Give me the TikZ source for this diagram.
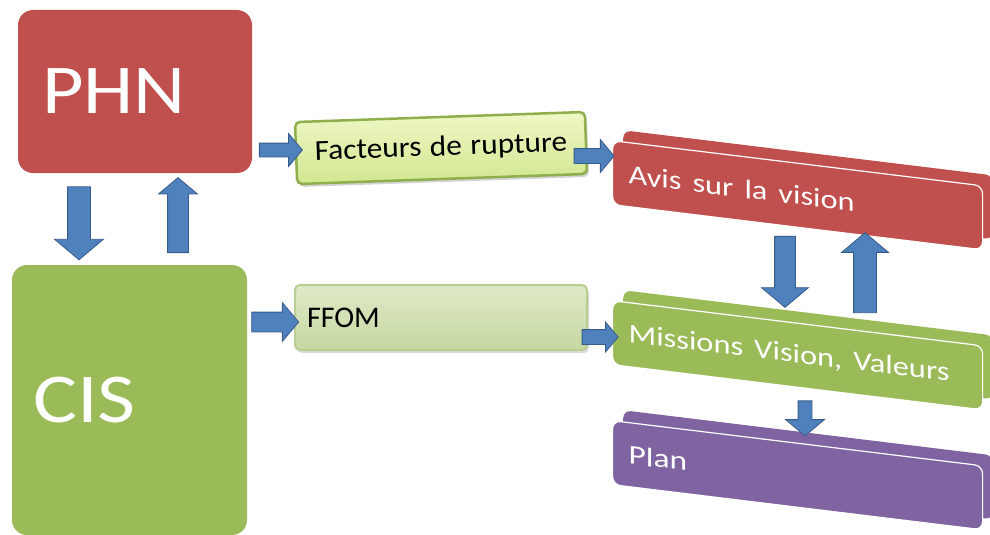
\documentclass[tikz,border=0pt]{standalone}
\usepackage{fontspec}
\usepackage{graphicx}
\setmainfont{Carlito}
\newfontfamily\midsp[WordSpace=1.2]{Carlito}
\usetikzlibrary{shapes.arrows,shadows}
\definecolor{redc}{HTML}{C0504D}
\definecolor{greenc}{HTML}{9BBB59}
\definecolor{purplec}{HTML}{8064A2}
\definecolor{bluec}{HTML}{4F81BD}
\definecolor{blueb}{HTML}{385D8A}
\definecolor{facttop}{HTML}{EEF8C6}
\definecolor{factbot}{HTML}{D2E690}
\definecolor{facted}{HTML}{8FAE4C}
\definecolor{ffomtop}{HTML}{DFE9C8}
\definecolor{ffombot}{HTML}{C6D8A0}
\definecolor{ffomed}{HTML}{B9CD92}
\newcommand{\hs}[2]{\scalebox{#1}[1]{#2}}
\newcommand{\wsp}{\hspace{0.34em}}
\tikzset{
  bigbox/.style={rounded corners=15pt, inner ysep=0pt, align=left, text=white},
  slab/.style={draw=white, line width=1.2pt, rounded corners=8pt, yslant=-0.122,
    minimum width=370pt, minimum height=64pt, anchor=north west, inner xsep=16pt,
    inner ysep=0pt, text width=338pt, align=left, text=white},
  slabback/.style={rounded corners=8pt, yslant=-0.122,
    minimum width=370pt, minimum height=64pt, anchor=north west},
  factbox/.style={draw=facted, line width=2.5pt, rounded corners=5pt,
    top color=facttop, bottom color=factbot, align=center,
    drop shadow={opacity=0.35, shadow xshift=2pt, shadow yshift=-3pt}},
  ffombox/.style={draw=ffomed, line width=2pt, rounded corners=5pt,
    top color=ffomtop, bottom color=ffombot, align=left,
    drop shadow={opacity=0.3, shadow xshift=2pt, shadow yshift=-3pt}},
  barrow/.style={single arrow, draw=blueb, fill=bluec, line width=0.8pt,
    inner xsep=0pt, single arrow head indent=0pt, single arrow tip angle=100}
}
\begin{document}
\begin{tikzpicture}[x=1pt,y=-1pt]
\useasboundingbox (0,0) rectangle (990,535);
% left big boxes
\node[bigbox, fill=redc, minimum width=234pt, minimum height=163pt,
  text width=186pt, inner xsep=24pt] (phn) at (135,91.5)
  {\hs{1.15}{\fontsize{70}{70}\selectfont PHN}};
\node[bigbox, fill=greenc, minimum width=235pt, minimum height=270pt,
  text width=193pt, inner xsep=21pt] (cis) at (129.5,400)
  {\hs{1.18}{\fontsize{70}{70}\selectfont CIS}};
% middle boxes
\node[factbox, rotate=2, minimum width=290pt, minimum height=62pt] (fact) at (441,148)
  {\hs{1.08}{\midsp\fontsize{29}{29}\selectfont Facteurs de rupture}};
\node[ffombox, minimum width=292pt, minimum height=65pt, text width=268pt,
  inner xsep=12pt] (ffom) at (441,317.5)
  {\fontsize{30}{30}\selectfont FFOM};
% slabs
\node[slabback, fill=redc] (avisback) at (623,130) {};
\node[slab, fill=redc] (avis) at (612,140)
  {\hs{1.2}{\fontsize{27}{27}\selectfont Avis\wsp sur\wsp la\wsp vision}};
\node[slabback, fill=greenc] (missback) at (623,290) {};
\node[slab, fill=greenc] (missions) at (612,300)
  {\hs{1.2}{\fontsize{27}{27}\selectfont Missions\wsp Vision,\wsp Valeurs}};
\node[slabback, fill=purplec] (planback) at (623,410) {};
\node[slab, fill=purplec] (plan) at (612,420)
  {\hs{1.24}{\fontsize{27}{27}\selectfont Plan}};
% arrows (inner ysep = half shaft width)
\node[barrow, minimum height=73pt, minimum width=48pt, inner ysep=11pt, single arrow head extend=13pt, rotate=-90] (a1) at (79,218.5) {};
\node[barrow, minimum height=75pt, minimum width=38pt, inner ysep=10pt, single arrow head extend=9pt, rotate=90] (a2) at (178,219.5) {};
\node[barrow, minimum height=43pt, minimum width=32pt, inner ysep=6.5pt, single arrow head extend=9.5pt] (a3) at (278,150) {};
\node[barrow, minimum height=40pt, minimum width=32pt, inner ysep=7pt, single arrow head extend=9pt] (a4) at (591,156) {};
\node[barrow, minimum height=47pt, minimum width=38pt, inner ysep=9.5pt, single arrow head extend=9.5pt] (a5) at (271,322) {};
\node[barrow, minimum height=36pt, minimum width=29pt, inner ysep=7pt, single arrow head extend=7.5pt] (a6) at (597,337) {};
\node[barrow, minimum height=71pt, minimum width=46pt, inner ysep=10pt, single arrow head extend=13pt, rotate=-90] (a7) at (785,267.5) {};
\node[barrow, minimum height=80pt, minimum width=46pt, inner ysep=11pt, single arrow head extend=12pt, rotate=90] (a8) at (865,277.5) {};
\node[barrow, minimum height=35pt, minimum width=38pt, inner ysep=6.5pt, single arrow head extend=12.5pt, rotate=-90] (a9) at (805,415.5) {};
\end{tikzpicture}
\end{document}
